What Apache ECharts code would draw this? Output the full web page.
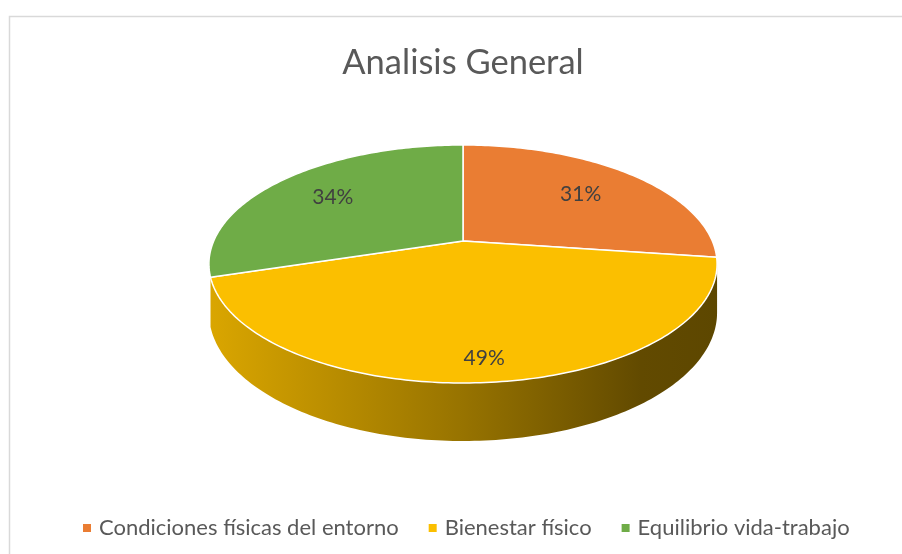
<!DOCTYPE html>
<html>
<head>
<meta charset="utf-8">
<script src="https://cdn.jsdelivr.net/npm/echarts@6/dist/echarts.min.js"></script>
<style>
  html, body { margin: 0; padding: 0; background: #fff; }
</style>
</head>
<body>
<div id="main" style="width: 902px; height: 554px"></div>
<script>
const categories = ['Condiciones físicas del entorno', 'Bienestar físico', 'Equilibrio vida-trabajo']
const values = [31, 49, 34]
const colors = ['#EA7D33', '#FBBF00', '#6FAC47']

// 3D pie, projected with a bit of perspective (like Excel)
const cx = 463, cy = 241
const A = 249.3, B = 114.6, k = 0.193, D = 46.8
const labelR = [0.68, 0.86, 0.7]
const total = values.reduce((s, v) => s + v, 0)

function proj(t, f) {
  const d = 1 + k * f * Math.cos(t)
  return [cx + A * f * Math.sin(t) / d, cy - B * f * Math.cos(t) / d]
}
function projBottom(t) {
  const p = proj(t, 1)
  return [p[0], p[1] + D / (1 + k * Math.cos(t))]
}
function shade(hex, f) {
  const n = parseInt(hex.slice(1), 16)
  const r = Math.round(((n >> 16) & 255) * f)
  const g = Math.round(((n >> 8) & 255) * f)
  const b = Math.round((n & 255) * f)
  return 'rgb(' + r + ',' + g + ',' + b + ')'
}
function arc(a0, a1, fn) {
  const pts = []
  const n = Math.max(2, Math.ceil((a1 - a0) / (Math.PI / 180)))
  for (let i = 0; i <= n; i++) pts.push(fn(a0 + (a1 - a0) * i / n))
  return pts
}

const tSide1 = Math.acos(-k)
const tSide2 = 2 * Math.PI - tSide1

function makeRender(i) {
  return function (params, api) {
    const v = api.value(0)
    let before = 0
    for (let j = 0; j < i; j++) before += values[j]
    const a0 = before / total * 2 * Math.PI
    const a1 = (before + v) / total * 2 * Math.PI
    const children = []

    // side wall (front part only, tiny slivers skipped)
    const w0 = Math.max(a0, tSide1), w1 = Math.min(a1, tSide2)
    if (w1 - w0 > 0.15) {
      const top = arc(w0, w1, (t) => proj(t, 1))
      const bot = arc(w0, w1, projBottom).reverse()
      children.push({
        type: 'polygon',
        shape: { points: top.concat(bot) },
        style: {
          fill: new echarts.graphic.LinearGradient(proj(tSide2, 1)[0], 0, proj(tSide1, 1)[0], 0, [
            { offset: 0, color: shade(colors[i], 0.87) },
            { offset: 0.5, color: shade(colors[i], 0.6) },
            { offset: 0.85, color: shade(colors[i], 0.39) },
            { offset: 1, color: shade(colors[i], 0.37) }
          ], true),
          stroke: null
        }
      })
    }

    // top face
    children.push({
      type: 'polygon',
      shape: { points: [[cx, cy]].concat(arc(a0, a1, (t) => proj(t, 1))) },
      style: { fill: colors[i], stroke: '#ffffff', lineWidth: 1.5, lineJoin: 'round' }
    })

    // data label
    const lp = proj((a0 + a1) / 2, labelR[i])
    children.push({
      type: 'text',
      x: lp[0],
      y: lp[1],
      style: {
        text: v + '%',
        fill: '#404040',
        fontSize: 21,
        fontFamily: 'Lato',
        align: 'center',
        verticalAlign: 'middle'
      }
    })
    return { type: 'group', children: children }
  }
}

const chart = echarts.init(document.getElementById('main'))
chart.setOption({
  animation: false,
  title: {
    text: 'Analisis General',
    left: 458,
    textAlign: 'center',
    top: 40,
    textStyle: { fontFamily: 'Lato', fontSize: 34.5, fontWeight: 'normal', color: '#595959' }
  },
  legend: {
    data: categories,
    left: 78,
    top: 512,
    icon: 'rect',
    itemWidth: 8,
    itemHeight: 8,
    itemGap: 30,
    textStyle: { fontFamily: 'Lato', fontSize: 22, color: '#595959', padding: [0, 0, 0, 3] }
  },
  graphic: [
    {
      type: 'rect',
      shape: { x: 9.5, y: 16.5, width: 1000, height: 600 },
      style: { fill: null, stroke: '#d9d9d9', lineWidth: 1.5 },
      silent: true
    }
  ],
  series: categories.map((name, i) => ({
    name: name,
    type: 'custom',
    coordinateSystem: 'none',
    itemStyle: { color: colors[i] },
    renderItem: makeRender(i),
    data: [[values[i]]]
  }))
})
</script>
</body>
</html>
